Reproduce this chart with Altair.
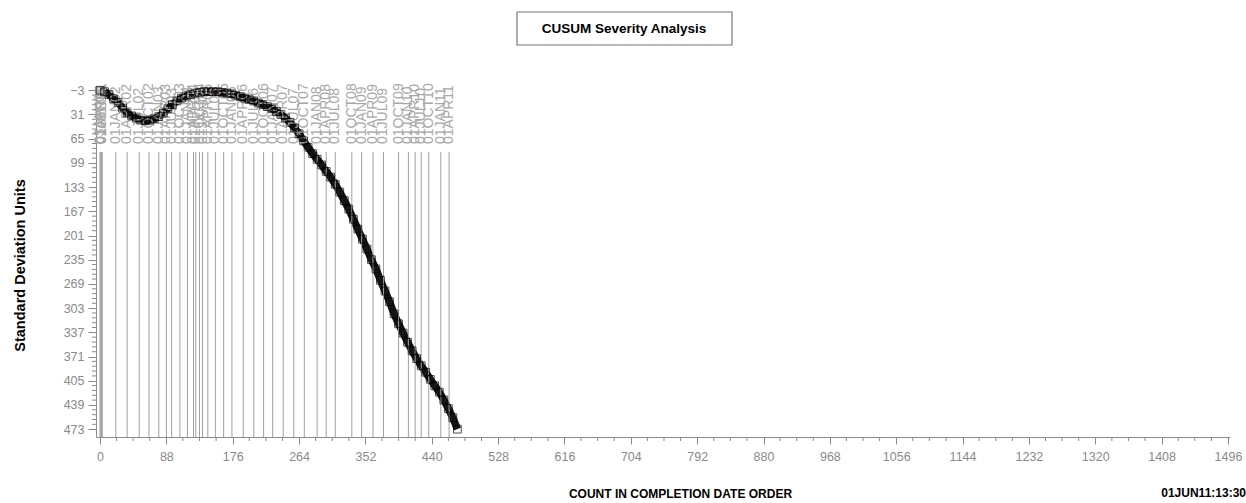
import altair as alt
import pandas as pd

# ---- data ----
counts = [0, 6, 12, 18, 24, 30, 36, 42, 48, 54, 60, 66, 72, 78, 84, 90, 96, 102, 108, 114,
          120, 126, 132, 138, 144, 150, 156, 162, 168, 174, 180, 186, 192, 198, 204, 210,
          216, 222, 228, 234, 240, 246, 252, 258, 264, 270, 276, 282, 288, 294, 300, 306,
          312, 318, 324, 330, 336, 342, 348, 354, 360, 366, 372, 378, 384, 390, 396, 402,
          408, 414, 420, 426, 432, 438, 444, 450, 456, 462, 468, 474]
cusum = [-3, -1, 3, 9, 14, 22, 29, 33, 36, 39, 40, 39, 37, 34, 29, 23, 17, 12, 8, 5,
         3, 1, 0, -1, -1, -1, -1, 0, 1, 2, 4, 6, 8, 10, 12, 15,
         17, 20, 23, 27, 31, 36, 42, 50, 58, 68, 77, 86, 94, 102, 111, 119,
         129, 140, 152, 164, 178, 192, 206, 220, 235, 248, 264, 279, 294, 311, 325, 338,
         351, 363, 374, 384, 393, 403, 412, 421, 432, 444, 457, 473]

ref_labels = ["03JAN01", "01APR01", "01JUL01", "01OCT01",
              "01JAN02", "01APR02", "01JUL02", "01OCT02",
              "01JAN03", "01APR03", "01JUL03", "01OCT03",
              "01JAN04", "01APR04", "01JUL04", "01OCT04",
              "01JAN05", "01APR05", "01JUL05", "01OCT05",
              "01JAN06", "01APR06", "01JUL06", "01OCT06",
              "01JAN07", "01APR07", "01JUL07", "01OCT07",
              "01JAN08", "01APR08", "01JUL08", "01OCT08",
              "01JAN09", "01APR09", "01JUL09", "01OCT09",
              "01JAN10", "01APR10", "01JUL10", "01OCT10",
              "01JAN11", "01APR11"]
ref_counts = [0, 1, 2, 3,
              21, 36, 52, 65,
              78, 88, 95, 106,
              116, 124, 127, 132,
              136, 143, 153, 164,
              175, 190, 204, 217,
              229, 243, 257, 271,
              288, 300, 312, 334,
              347, 362, 376, 396,
              409, 418, 426, 436,
              452, 463]

x_major = [0, 88, 176, 264, 352, 440, 528, 616, 704, 792, 880, 968, 1056, 1144,
           1232, 1320, 1408, 1496]
y_major = [-3, 31, 65, 99, 133, 167, 201, 235, 269, 303, 337, 371, 405, 439, 473]

title_text = "CUSUM Severity Analysis"
x_title = "COUNT IN COMPLETION DATE ORDER"
y_title = "Standard Deviation Units"
stamp_text = "01JUN11:13:30"

x_minor = [v + k * 22 for v in x_major[:-1] for k in (1, 2, 3)]
y_minor = [round(v + k * 6.8, 1) for v in y_major[:-1] for k in (1, 2, 3, 4)]

# ---- layout ----
W, H = 1134, 351
PAD = {"left": 96, "top": 86, "right": 16, "bottom": 66}

curve = pd.DataFrame({"count": counts, "cusum": cusum})
refs = pd.DataFrame({"count": ref_counts, "label": ref_labels})
xmin_df = pd.DataFrame({"count": x_minor})
ymin_df = pd.DataFrame({"cusum": y_minor})
one = pd.DataFrame({"k": [0]})

xscale = alt.Scale(domain=[-5.3, 1498.7], nice=False, zero=False)
yscale = alt.Scale(domain=[-9, 484], nice=False, zero=False, reverse=True)

TICK_FONT = "Liberation Sans Narrow, Liberation Sans, Arial, sans-serif"
BOLD_FONT = "Liberation Sans Narrow, Liberation Sans, Arial, sans-serif"
GRAY = "#8a8a8a"

x_axis = alt.Axis(values=x_major, orient="bottom", title=x_title, grid=False,
                  format="d",
                  tickSize=7, labelPadding=6, labelFontSize=12.5, labelColor=GRAY,
                  labelFont=TICK_FONT, domainColor=GRAY, tickColor=GRAY,
                  titleFont=BOLD_FONT, titleFontWeight="bold", titleFontSize=12,
                  titleColor="#000", titleX=584, titleY=56, titleAlign="center",
                  titleBaseline="middle", labelFlush=False, labelOverlap=False)
y_axis = alt.Axis(values=y_major, orient="left", title=y_title, grid=False,
                  format="d",
                  tickSize=8, labelPadding=4, labelFontSize=12.5, labelColor=GRAY,
                  labelFont=TICK_FONT, domainColor=GRAY, tickColor=GRAY,
                  titleFont="Liberation Sans, Arial, sans-serif", titleFontWeight="bold",
                  titleFontSize=14.5, titleColor="#000", titleX=-76, titleY=179,
                  titleAngle=270, titleAlign="center", titleBaseline="middle",
                  labelFlush=False, labelOverlap=False)

X = alt.X("count:Q", scale=xscale, axis=x_axis, title=x_title)
Y = alt.Y("cusum:Q", scale=yscale, axis=y_axis, title=y_title)

base = alt.Chart(curve)

line = base.mark_line(color="#151515", strokeWidth=7.5).encode(x=X, y=Y)
points = base.mark_point(shape="square", filled=False, size=60, color="#000",
                         strokeWidth=1).encode(x=X, y=Y)

x_minor_ticks = alt.Chart(xmin_df).mark_rule(color=GRAY, strokeWidth=1).encode(
    x=X, y=alt.value(H), y2=alt.value(H + 4))
y_minor_ticks = alt.Chart(ymin_df).mark_rule(color=GRAY, strokeWidth=1).encode(
    y=Y, x=alt.value(0), x2=alt.value(-4))

rules = alt.Chart(refs).mark_rule(color="#a0a0a0", strokeWidth=1).encode(
    x=X, y=alt.value(66), y2=alt.value(H),
)
labels = alt.Chart(refs).mark_text(angle=270, align="left", baseline="middle",
                                   fontSize=14, color="#a8a8a8",
                                   font="Liberation Sans, Arial, sans-serif").encode(
    x=X, y=alt.value(58), text="label:N",
)

box = alt.Chart(one).mark_rect(fill="white", stroke="#777", strokeWidth=1.2).encode(
    x=alt.value(421), x2=alt.value(636), y=alt.value(-74), y2=alt.value(-41))
title = alt.Chart(one).mark_text(fontSize=13.5, fontWeight="bold", font=BOLD_FONT,
                                 color="#000", align="center", baseline="middle").encode(
    x=alt.value(528), y=alt.value(-57), text=alt.value(title_text))
stamp = alt.Chart(one).mark_text(fontSize=12, fontWeight="bold", font=BOLD_FONT,
                                 color="#000", align="right", baseline="middle").encode(
    x=alt.value(1150), y=alt.value(407), text=alt.value(stamp_text))

chart = alt.layer(line, rules, labels, x_minor_ticks, y_minor_ticks, points,
                  box, title, stamp).properties(
    width=W, height=H, padding=PAD, background="white",
    view=alt.ViewBackground(stroke="transparent", strokeWidth=0),
    autosize=alt.AutoSizeParams(type="none"),
).configure_view(strokeWidth=0, stroke="transparent").configure_axis(labelOverlap=False)

chart.save("out.html", embed_options={"renderer": "svg", "actions": False})
